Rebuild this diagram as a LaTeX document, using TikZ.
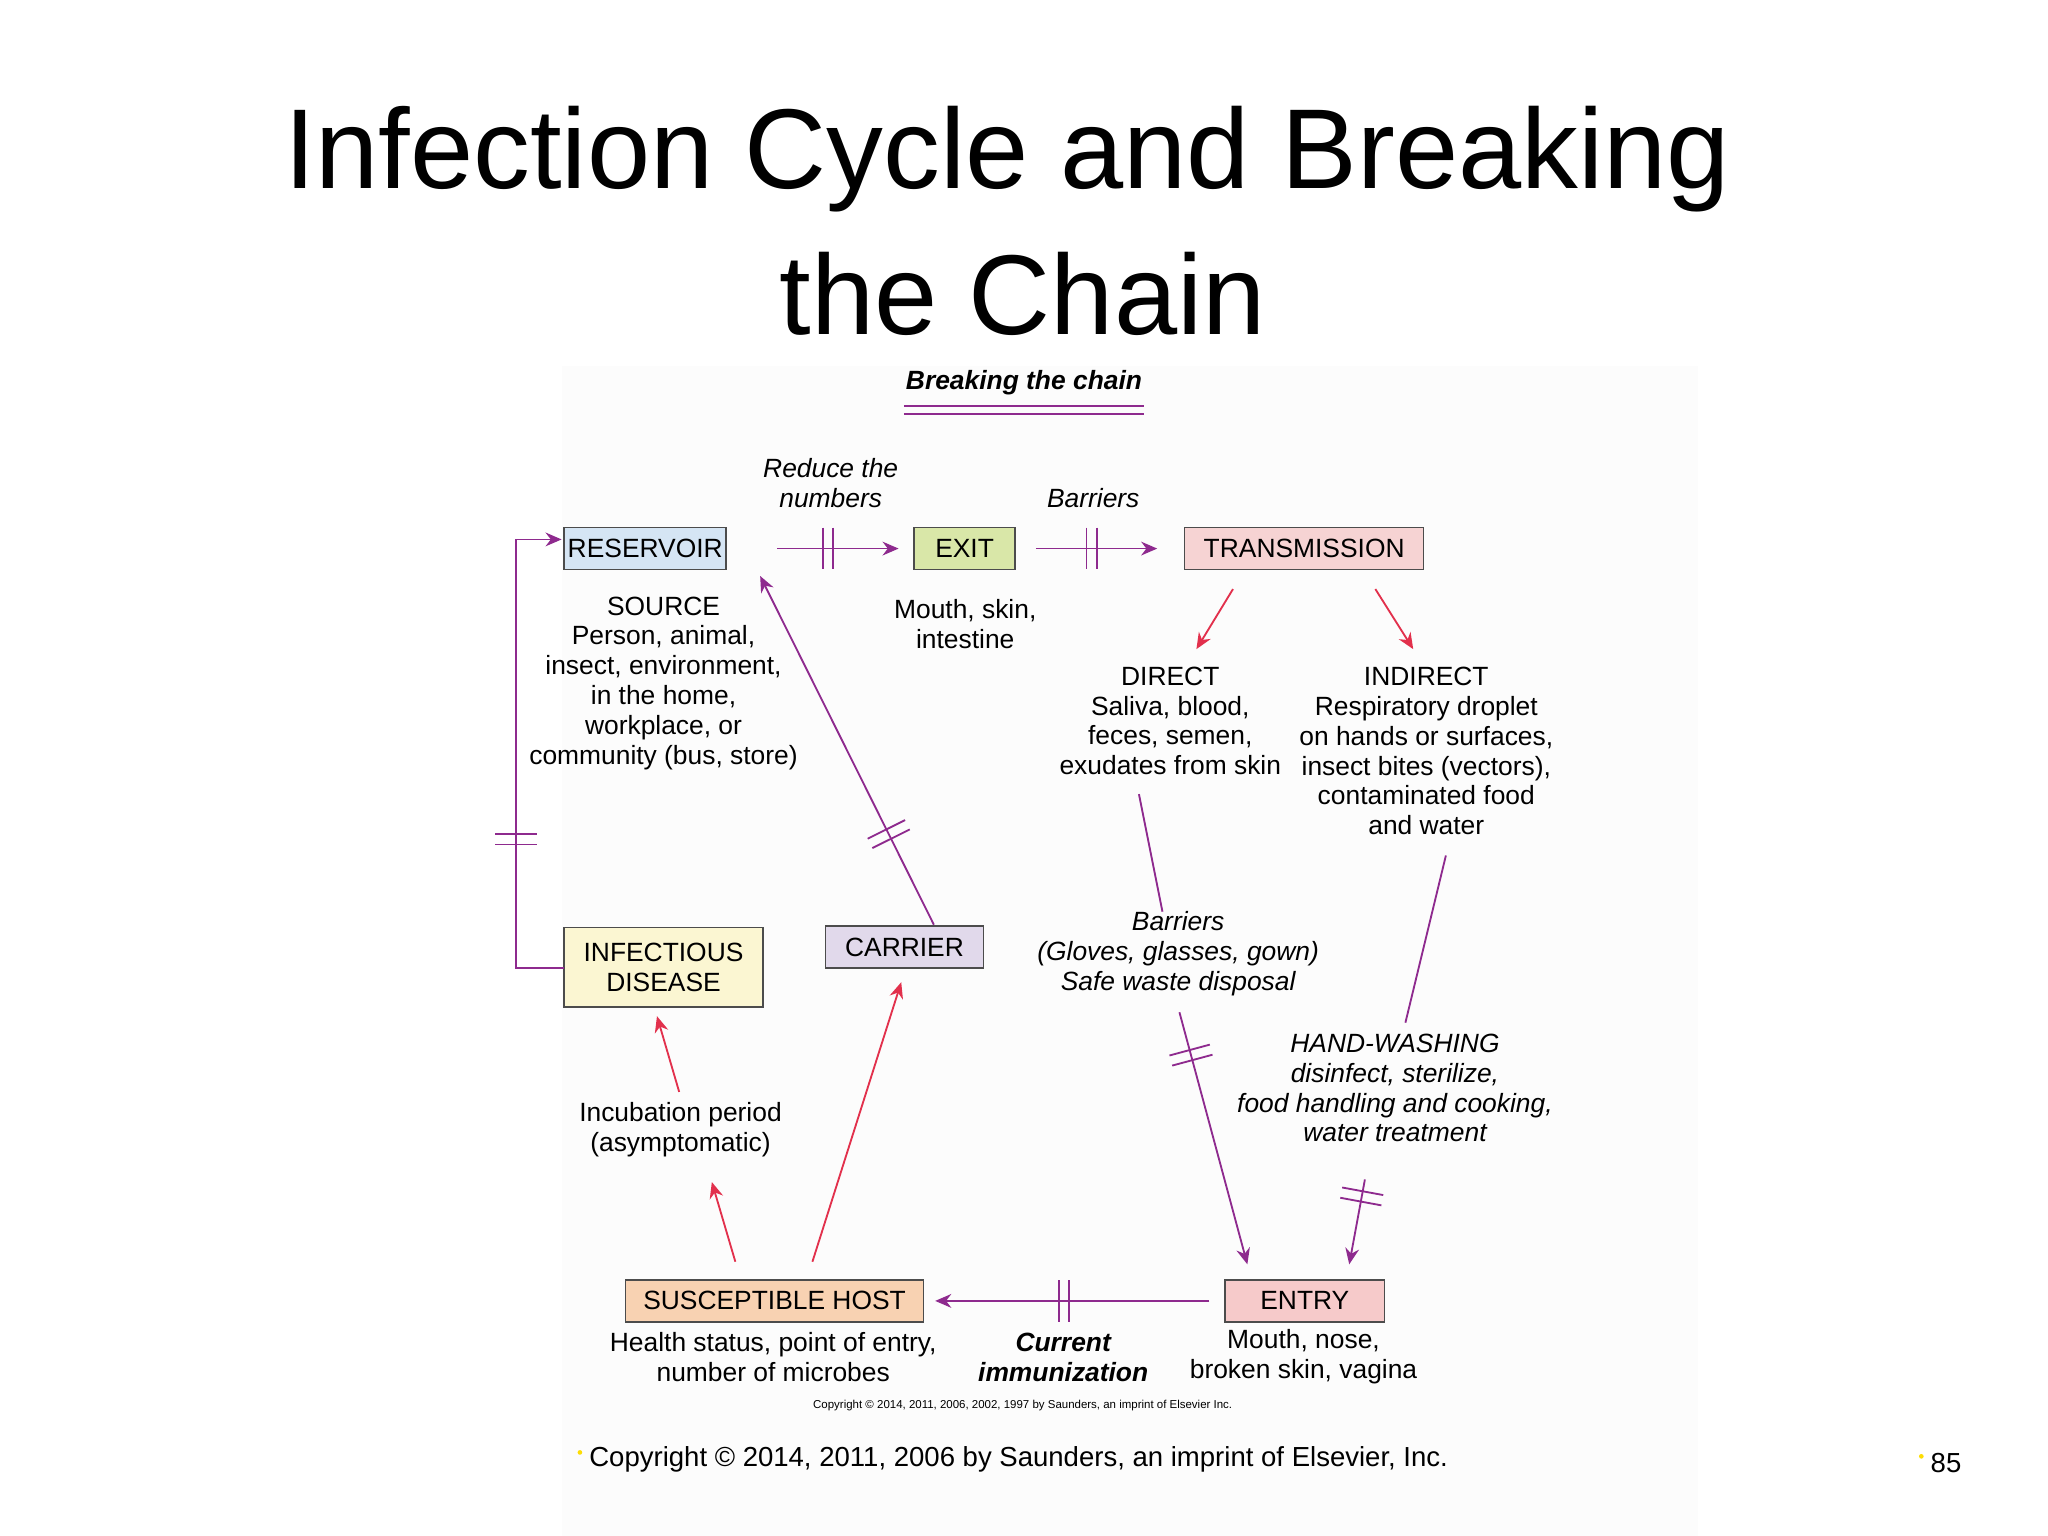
\documentclass[tikz,border=0pt]{standalone}
\usepackage{fontspec}
\setmainfont{Liberation Sans}
\usetikzlibrary{arrows.meta}
\definecolor{pur}{HTML}{8E2A8E}
\definecolor{rd}{HTML}{E2304C}
\definecolor{cblue}{HTML}{D5E5F4}
\definecolor{cgreen}{HTML}{D9E7A8}
\definecolor{cpink}{HTML}{F6D3D3}
\definecolor{cyel}{HTML}{FBF6D2}
\definecolor{clav}{HTML}{E1D9EB}
\definecolor{cpeach}{HTML}{F8D2B2}
\definecolor{cent}{HTML}{F6CACA}
\tikzset{
 box/.style={draw=black!70,line width=0.7pt,minimum height=32*0.02cm,inner sep=0pt,font=\fontsize{11.5}{13}\selectfont},
 txt/.style={align=center,font=\fontsize{11.5}{13}\selectfont},
 itx/.style={align=center,font=\fontsize{11.5}{13}\selectfont\itshape},
 parr/.style={draw=pur,line width=0.8pt,-{Stealth[length=7pt,width=6pt]}},
 pln/.style={draw=pur,line width=0.8pt},
 rarr/.style={draw=rd,line width=0.8pt,-{Stealth[length=7pt,width=6pt]}},
 brk/.pic={\draw[-,pur,line width=0.8pt] (-4,-16)--(-4,16) (4,-16)--(4,16);}
}
\begin{document}
\begin{tikzpicture}[x=0.02cm,y=-0.02cm]
\useasboundingbox (0,0) rectangle (1568,1176);
\fill[black!1] (430,280) rectangle (1300,1176);
% title
\node[font=\fontsize{49.5}{60}\selectfont] (t1) at (771,122) {Infection Cycle and Breaking};
\node[font=\fontsize{49.5}{60}\selectfont] (t2) at (783,225) {the Chain};
\node[font=\fontsize{11.5}{13}\selectfont\bfseries\itshape] (bc) at (784,293) {Breaking the chain};
\draw[pur,line width=0.8pt] (692,311)--(876,311) (692,317)--(876,317);
% boxes
\node[box,fill=cblue,minimum width=124*0.02cm] (res) at (494,420) {RESERVOIR};
\node[box,fill=cgreen,minimum width=77*0.02cm] (exit) at (738.5,420) {EXIT};
\node[box,fill=cpink,minimum width=183*0.02cm] (tr) at (998.5,420) {TRANSMISSION};
\node[box,fill=cyel,minimum width=152*0.02cm,minimum height=61*0.02cm,align=center] (inf) at (508,740.5) {INFECTIOUS\\DISEASE};
\node[box,fill=clav,minimum width=121*0.02cm] (car) at (692.5,725) {CARRIER};
\node[box,fill=cpeach,minimum width=228*0.02cm] (sus) at (593,996) {SUSCEPTIBLE HOST};
\node[box,fill=cent,minimum width=122*0.02cm] (ent) at (999,996) {ENTRY};
% texts
\node[itx] (red) at (636,370) {Reduce the\\numbers};
\node[itx] (bar1) at (837,381) {Barriers};
\node[txt] (src) at (508,523) {SOURCE\\Person, animal,\\insect, environment,\\in the home,\\workplace, or\\community (bus, store)};
\node[txt] (mo) at (739,478) {Mouth, skin,\\intestine};
\node[txt] (dir) at (896,552) {DIRECT\\Saliva, blood,\\feces, semen,\\exudates from skin};
\node[txt] (ind) at (1092,575) {INDIRECT\\Respiratory droplet\\on hands or surfaces,\\insect bites (vectors),\\contaminated food\\and water};
\node[itx] (bar2) at (902,730) {Barriers\\(Gloves, glasses, gown)\\Safe waste disposal};
\node[itx] (hw) at (1068,833) {HAND-WASHING\\disinfect, sterilize,\\food handling and cooking,\\water treatment};
\node[txt] (inc) at (521,865) {Incubation period\\(asymptomatic)};
\node[txt] (hs) at (592,1039) {Health status, point of entry,\\number of microbes};
\node[align=center,font=\fontsize{11.5}{13}\selectfont\bfseries\itshape] (ci) at (814,1039) {Current\\immunization};
\node[txt] (mn) at (998,1039) {Mouth, nose,\\broken skin, vagina};
\node[font=\fontsize{5}{6}\selectfont] (cp) at (783,1076) {Copyright © 2014, 2011, 2006, 2002, 1997 by Saunders, an imprint of Elsevier Inc.};
\node[font=\fontsize{12}{14}\selectfont,anchor=west] (ft) at (445,1117) {Copyright © 2014, 2011, 2006 by Saunders, an imprint of Elsevier, Inc.};
\node[font=\fontsize{12}{14}\selectfont,anchor=west] (pg) at (1472,1120) {85};
\fill[yellow!80!orange] (444,1112) circle (1.8) (1471,1115) circle (1.8);
% coordinates
\coordinate (a1) at (595,420); \coordinate (a2) at (688,420);
\coordinate (b1) at (793,420); \coordinate (b2) at (886,420);
\coordinate (d1) at (944,451); \coordinate (d2) at (916,497);
\coordinate (i1) at (1053,451); \coordinate (i2) at (1082,497);
\coordinate (e1) at (872,608); \coordinate (e2) at (890,698);
\coordinate (e3) at (903,775); \coordinate (e4) at (955,968);
\coordinate (f1) at (1107,655); \coordinate (f2) at (1076,783);
\coordinate (f3) at (1045,903); \coordinate (f4) at (1033,968);
\coordinate (g1) at (926,996); \coordinate (g2) at (716,996);
\coordinate (h1) at (622,966); \coordinate (h2) at (690,752);
\coordinate (k1) at (563,966); \coordinate (k2) at (545,905);
\coordinate (m1) at (520,836); \coordinate (m2) at (503,778);
\coordinate (n1) at (715,708); \coordinate (n2) at (582,441);
\coordinate (l1) at (432,741); \coordinate (l2) at (430,413);
\coordinate (lc1) at (395,741); \coordinate (lc2) at (395,413);
% connectors
\draw[parr] (a1)-- pic[pos=0.42,sloped]{brk} (a2);
\draw[parr] (b1)-- pic[pos=0.46,sloped]{brk} (b2);
\draw[rarr] (d1)--(d2);
\draw[rarr] (i1)--(i2);
\draw[pln] (e1)--(e2);
\draw[parr] (e3)-- pic[pos=0.17,sloped]{brk} (e4);
\draw[pln] (f1)--(f2);
\draw[parr] (f3)-- pic[pos=0.2,sloped]{brk} (f4);
\draw[parr] (g1)-- pic[pos=0.53,sloped]{brk} (g2);
\draw[rarr] (h1)--(h2);
\draw[rarr] (k1)--(k2);
\draw[rarr] (m1)--(m2);
\draw[parr] (n1)-- pic[pos=0.26,sloped]{brk} (n2);
\draw[parr] (l1)--(lc1)-- pic[pos=0.3,sloped]{brk} (lc2)--(l2);
\end{tikzpicture}
\end{document}
